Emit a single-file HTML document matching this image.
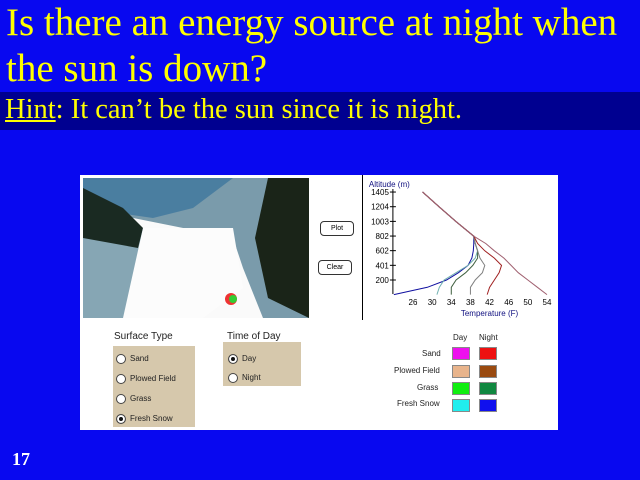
<!DOCTYPE html>
<html><head><meta charset="utf-8"><style>
body{margin:0;width:640px;height:480px;background:#0808f0;overflow:hidden;position:relative;font-family:"Liberation Serif",serif}
.t{position:absolute;color:#ffff00;font-size:39px;left:6px;line-height:46px;white-space:nowrap}
#hint{position:absolute;left:0;top:92px;width:640px;height:38px;background:#000090;color:#ffff00;font-size:28.5px;line-height:36px;padding-left:5px;box-sizing:border-box;white-space:nowrap}
#panel{position:absolute;left:80px;top:175px;width:478px;height:255px;background:#fff}
.s{font-family:"Liberation Sans",sans-serif;position:absolute;font-size:8px;color:#222}
.box{position:absolute;background:#d6c8ac}
.rad{position:absolute;width:8px;height:8px;border-radius:50%;border:1px solid #444;background:#fff}
.rad.on{background:#111;box-shadow:inset 0 0 0 2px #fff}
.sw{position:absolute;width:16px;height:11px;border:1px solid #888}
.btn{position:absolute;width:32px;height:13px;border:1px solid #333;border-radius:4px;font:7px "Liberation Sans",sans-serif;text-align:center;line-height:13px}
</style></head><body>
<div class="t" style="top:0px">Is there an energy source at night when</div>
<div class="t" style="top:46px">the sun is down?</div>
<div id="hint"><u>Hint</u>: It can’t be the sun since it is night.</div>
<div id="panel">
 <svg width="226" height="140" style="position:absolute;left:3px;top:3px">
  <rect width="226" height="140" fill="#fafafa"/>
  <rect width="226" height="40" fill="#4a7ea0"/>
  <path d="M0 30 L70 40 L110 30 L150 0 L226 0 L226 140 L180 140 L160 90 L150 60 Z" fill="#7a9bab"/>
  <path d="M0 40 L60 50 L60 140 L0 140 Z" fill="#86a6b4"/>
  <path d="M0 10 L20 20 L40 30 L60 50 L55 70 L0 60Z" fill="#1a2a22"/>
  <path d="M185 0 L226 0 L226 140 L185 120 L172 60Z" fill="#1a2418"/>
  <path d="M60 50 L150 50 L160 110 L120 140 L40 140 Z" fill="#fcfcfc"/>
  <circle cx="148" cy="121" r="6" fill="#e33"/><circle cx="150" cy="121" r="4" fill="#3c3"/>
 </svg>
 <div class="btn" style="left:240px;top:46px">Plot</div>
 <div class="btn" style="left:238px;top:85px">Clear</div>
 <svg id="ch" width="478" height="145" style="position:absolute;left:0;top:0"></svg>
 <div class="s" style="left:34px;top:156px;font-size:10px">Surface Type</div>
 <div class="box" style="left:33px;top:171px;width:82px;height:81px"></div>
 <div class="rad" style="left:36px;top:179px"></div><div class="s" style="left:50px;top:179px">Sand</div>
 <div class="rad" style="left:36px;top:199px"></div><div class="s" style="left:50px;top:199px">Plowed Field</div>
 <div class="rad" style="left:36px;top:219px"></div><div class="s" style="left:50px;top:219px">Grass</div>
 <div class="rad on" style="left:36px;top:239px"></div><div class="s" style="left:50px;top:239px">Fresh Snow</div>
 <div class="s" style="left:147px;top:156px;font-size:10px">Time of Day</div>
 <div class="box" style="left:143px;top:167px;width:78px;height:44px"></div>
 <div class="rad on" style="left:148px;top:179px"></div><div class="s" style="left:162px;top:179px">Day</div>
 <div class="rad" style="left:148px;top:198px"></div><div class="s" style="left:162px;top:198px">Night</div>
 <div class="s" style="left:373px;top:158px">Day</div>
 <div class="s" style="left:399px;top:158px">Night</div>
 <div class="s" style="left:342px;top:174px">Sand</div>
 <div class="s" style="left:314px;top:191px">Plowed Field</div>
 <div class="s" style="left:337px;top:208px">Grass</div>
 <div class="s" style="left:317px;top:224px">Fresh Snow</div>
 <div class="sw" style="left:372px;top:172px;background:#ee10ee"></div>
 <div class="sw" style="left:399px;top:172px;background:#ee1010"></div>
 <div class="sw" style="left:372px;top:190px;background:#e8b48c"></div>
 <div class="sw" style="left:399px;top:190px;background:#9a4a10"></div>
 <div class="sw" style="left:372px;top:207px;background:#10ee10"></div>
 <div class="sw" style="left:399px;top:207px;background:#108840"></div>
 <div class="sw" style="left:372px;top:224px;background:#20eeee"></div>
 <div class="sw" style="left:399px;top:224px;background:#1010ee"></div>
</div>
<div style="position:absolute;left:12px;top:449px;color:#fff;font-size:18px;font-weight:bold">17</div>
<script>
const xTicks=[26,30,34,38,42,46,50,54];
const yTicks=[200,401,602,802,1003,1204,1405];
const alts=[0,100,200,300,400,500,600,700,800,1000,1200,1405];
const seriesSnowNight=[22,29,33,35.5,37.5,38.3,38.6,38.7,38.7,35,31.5,28];
const seriesTeal=[31,31.5,32.5,35,37.5,39,39.5,39,38.7,35,31.5,28];
const seriesGrass=[34,34,35,37,38.5,39.5,39.5,39,38.7,35,31.5,28];
const seriesGray=[38,38,39,40.5,41,40,39.5,39,38.7,35,31.5,28];
const seriesRed=[41.5,42,43,44,44.5,43,41,39.5,38.7,35,31.5,28];
const seriesDay=[54,52,50,48,46.5,45,43,41.2,38.7,35,31.5,28];
const series=[[seriesSnowNight,'#1010a0'],[seriesTeal,'#70b0b0'],[seriesGrass,'#406040'],[seriesGray,'#808080'],[seriesRed,'#a02020'],[seriesDay,'#a06070']];
const sx=134/28,x=t=>333+(t-26)*sx;
const y=a=>119.6-a*0.073;
const svg=document.getElementById('ch');const NS='http://www.w3.org/2000/svg';
function mk(tag,at){const e=document.createElementNS(NS,tag);for(const k in at)e.setAttribute(k,at[k]);svg.appendChild(e);return e;}
let e=mk('line',{x1:x(21.8),x2:x(21.8),y1:14,y2:119,stroke:'#000'});

yTicks.forEach(v=>{let l=mk('line',{x1:x(21.8)-3,x2:x(21.8)+3,y1:y(v),y2:y(v),stroke:'#000'});

let t=mk('text',{x:x(21.8)-4,y:y(v)+3,'text-anchor':'end','font-size':'8','font-family':'Liberation Sans'});t.textContent=v;
});
xTicks.forEach(v=>{let t=mk('text',{x:x(v),y:130,'text-anchor':'middle','font-size':'8','font-family':'Liberation Sans'});t.textContent=v;
});
let at=mk('text',{x:x(21.8)-24,y:12,'font-size':'8','font-family':'Liberation Sans','fill':'#101080'});at.textContent='Altitude (m)';

let xt=mk('text',{x:x(36),y:141,'font-size':'8','font-family':'Liberation Sans','fill':'#101080'});xt.textContent='Temperature (F)';

series.forEach(([vals,c])=>{let p=mk('polyline',{points:vals.map((t,i)=>x(t)+','+y(alts[i])).join(' '),fill:'none',stroke:c,'stroke-width':'1'});
});
let pl=mk('rect',{x:282,y:0,width:1,height:145,fill:'#000'});
</script>
</body></html>
